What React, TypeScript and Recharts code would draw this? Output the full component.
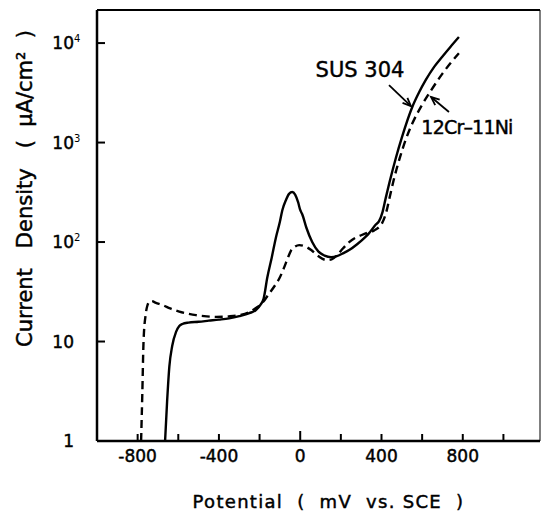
import React from 'react';
import { LineChart, Line, XAxis, YAxis, ReferenceLine } from 'recharts';

// SUS 304 (solid)
const sus304Potential = [
  -665, -655, -644, -630, -611, -595, -580, -550, -500, -450, -400, -350, -300, -250, -218, -195,
  -180, -162, -140, -120, -100, -88, -70, -55, -39, -25, -10, 0, 10, 30, 59, 90, 120, 152, 180,
  210, 241, 280, 320, 339, 372, 388, 405, 421, 440, 470, 500, 552, 585, 618, 660, 699, 740, 781,
];
const sus304Current = [
  1, 2.5, 5.6, 9, 12.5, 14.3, 15, 15.5, 15.8, 16.2, 16.6, 17.1, 18, 19.3, 20.7, 23.5,
  27, 44, 70, 110, 160, 209, 265, 305, 318, 300, 250, 210, 190, 140, 100, 80, 73, 70.5, 72,
  77, 83, 95, 112, 123, 150, 162, 200, 278, 403, 692, 1120, 2290, 3200, 4260, 5800, 7300, 9200, 11500,
];

// 12Cr-11Ni (dashed)
const crNiPotential = [
  -783, -777, -771, -760, -752, -740, -732, -710, -676, -640, -595, -550, -513, -460, -414, -350,
  -300, -250, -218, -190, -152, -119, -103, -80, -60, -44, -25, -5, 20, 54, 90, 128, 155, 182,
  210, 241, 270, 300, 335, 364, 403, 422, 440, 460, 490, 520, 552, 600, 642, 699, 740, 781,
];
const crNiCurrent = [
  1, 3, 10, 19, 23, 25.3, 25.5, 24.5, 23.2, 21.5, 20, 19, 18.4, 17.9, 17.7, 17.9,
  18.4, 19.8, 21.7, 24, 30.5, 38, 43, 55, 70, 83, 90, 93, 91, 83, 72, 66, 67, 74,
  86, 100, 110, 117, 125, 131, 155, 195, 280, 420, 700, 1080, 1560, 2400, 3300, 4900, 6300, 7900,
];

const xTicks = [-800, -600, -400, -200, 0, 200, 400, 600, 800, 1000];
const xLabelled = [-800, -400, 0, 400, 800];
const yTicks = [1, 10, 100, 1000, 10000];
const yTickText: Record<number, [string, string]> = {
  1: ['1', ''],
  10: ['10', ''],
  100: ['10', '2'],
  1000: ['10', '3'],
  10000: ['10', '4'],
};

const X_DOMAIN: [number, number] = [-1000, 1180];
const Y_DOMAIN: [number, number] = [1, 21500];

const sus304Data = sus304Potential.map((p, i) => ({ potential: p, current: sus304Current[i] }));
const crNiData = crNiPotential.map((p, i) => ({ potential: p, current: crNiCurrent[i] }));

const FONT = '"DejaVu Sans", sans-serif';
// the scanned lettering is a little heavier than the regular face
const textInk = { fill: '#000', stroke: '#000', strokeWidth: 0.45 };

function XTick(props: any) {
  const { x, y, payload } = props;
  const v = payload.value;
  const len = v === 0 ? 10 : 7;
  return (
    <g>
      <line x1={x} y1={y} x2={x} y2={y - len} stroke="#000" strokeWidth={2} />
      {xLabelled.includes(v) && (
        <text x={x} y={y + 21} textAnchor="middle" fontFamily={FONT} fontSize={17} {...textInk}>
          {v}
        </text>
      )}
    </g>
  );
}

function YTick(props: any) {
  const { x, y, payload } = props;
  const v = payload.value;
  const [base, sup] = yTickText[v] || ['', ''];
  return (
    <g>
      {v !== 1 && <line x1={x} y1={y} x2={x + 8} y2={y} stroke="#000" strokeWidth={2} />}
      <text x={x - 23} y={y + 6} textAnchor="end" fontFamily={FONT} fontSize={17} {...textInk}>
        {base}
      </text>
      {sup && (
        <text x={x - 23} y={y - 1} fontFamily={FONT} fontSize={10} fill="#000">
          {sup}
        </text>
      )}
    </g>
  );
}

function arrowShape(text: string, tdx: number, tdy: number, size: number, spacing: number) {
  return (props: any) => {
    const { x1, y1, x2, y2 } = props;
    const ang = Math.atan2(y2 - y1, x2 - x1);
    const h = 9;
    const a1 = ang + Math.PI - 0.4;
    const a2 = ang + Math.PI + 0.4;
    return (
      <g>
        <line x1={x1} y1={y1} x2={x2} y2={y2} stroke="#000" strokeWidth={1.8} />
        <path
          d={`M${x2 + h * Math.cos(a1)},${y2 + h * Math.sin(a1)} L${x2},${y2} L${x2 + h * Math.cos(a2)},${y2 + h * Math.sin(a2)}`}
          stroke="#000"
          strokeWidth={1.8}
          fill="none"
        />
        <text
          x={x1 + tdx}
          y={y1 + tdy}
          textAnchor="middle"
          fontFamily={FONT}
          fontSize={size}
          letterSpacing={spacing}
          {...textInk}
        >
          {text}
        </text>
      </g>
    );
  };
}

function XTitle(props: any) {
  const { viewBox } = props;
  return (
    <text
      x={viewBox.x + viewBox.width / 2 + 10}
      y={viewBox.y + 67}
      textAnchor="middle"
      fontFamily={FONT}
      fontSize={18}
      letterSpacing={1.3}
      {...textInk}
      style={{ whiteSpace: 'pre' }}
    >
      {'Potential  (  mV  vs. SCE  )'}
    </text>
  );
}

function YTitle(props: any) {
  const { viewBox } = props;
  const cy = viewBox.y + viewBox.height / 2 - 37;
  return (
    <text
      transform={`translate(32, ${cy}) rotate(-90)`}
      textAnchor="middle"
      fontFamily={FONT}
      fontSize={21}
      {...textInk}
      style={{ whiteSpace: 'pre' }}
    >
      {'Current   Density   (  μA/cm²  )'}
    </text>
  );
}

export default function App() {
  return (
    <div style={{ position: 'absolute', left: 0, top: 0, background: '#fff' }}>
      <LineChart width={542} height={514} margin={{ top: 10, right: 2, bottom: 0, left: 0 }}>
        <XAxis
          dataKey="potential"
          type="number"
          domain={X_DOMAIN}
          allowDataOverflow
          ticks={xTicks}
          interval={0}
          tickLine={false}
          tickSize={0}
          tickMargin={0}
          tick={<XTick />}
          height={73}
          axisLine={{ stroke: '#000', strokeWidth: 2.5 }}
          label={<XTitle />}
        />
        <YAxis
          dataKey="current"
          scale="log"
          domain={Y_DOMAIN}
          allowDataOverflow
          ticks={yTicks}
          interval={0}
          tickLine={false}
          tickSize={0}
          tickMargin={0}
          tick={<YTick />}
          width={97}
          axisLine={{ stroke: '#000', strokeWidth: 2.5 }}
          label={<YTitle />}
        />
        <ReferenceLine y={Y_DOMAIN[1]} stroke="#000" strokeWidth={2} ifOverflow="visible" />
        <ReferenceLine x={X_DOMAIN[1]} stroke="#000" strokeWidth={1} ifOverflow="visible" />
        <Line
          data={sus304Data}
          dataKey="current"
          type="monotone"
          stroke="#000"
          strokeWidth={2.4}
          dot={false}
          isAnimationActive={false}
        />
        <Line
          data={crNiData}
          dataKey="current"
          type="monotone"
          stroke="#000"
          strokeWidth={2.4}
          strokeDasharray="8 5"
          dot={false}
          isAnimationActive={false}
        />
        <ReferenceLine
          segment={[
            { x: 437, y: 3785 },
            { x: 545, y: 2328 },
          ]}
          ifOverflow="visible"
          shape={arrowShape('SUS 304', -29, -8, 21, 0)}
        />
        <ReferenceLine
          segment={[
            { x: 732, y: 2026 },
            { x: 644, y: 2866 },
          ]}
          ifOverflow="visible"
          shape={arrowShape('12Cr–11Ni', 18, 22, 19, -0.8)}
        />
      </LineChart>
    </div>
  );
}
